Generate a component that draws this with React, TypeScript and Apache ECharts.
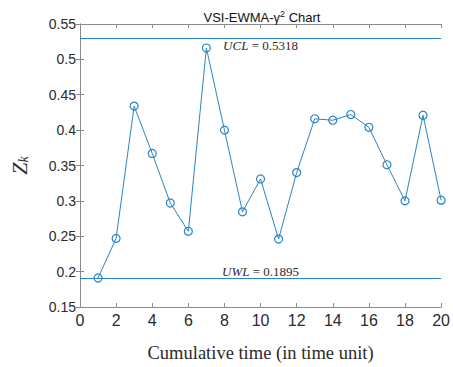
import React, { useEffect, useRef } from "react";
import * as echarts from "echarts";

// Cumulative sampling times and the EWMA statistic Z_k at each one
const times = [1, 2, 3, 4, 5, 6, 7, 8, 9, 10, 11, 12, 13, 14, 15, 16, 17, 18, 19, 20];
const zk = [
  0.191, 0.247, 0.434, 0.367, 0.297, 0.257, 0.516, 0.4, 0.2845, 0.331,
  0.246, 0.34, 0.416, 0.414, 0.422, 0.404, 0.351, 0.3, 0.421, 0.301,
];
// Control limits
const UCL = 0.5318;
const UWL = 0.1895;

const BLUE = "#2a84c6";
const AXIS = "#8a8a8a";
const TEXT = "#2b2b2b";

export default function App() {
  const ref = useRef<HTMLDivElement>(null);

  useEffect(() => {
    if (!ref.current) return;
    const chart = echarts.init(ref.current, null, { renderer: "svg" });

    const limitLabel = (name: string, v: number, pos: string) => ({
      show: true,
      position: pos,
      distance: 1,
      formatter: `{i|${name}}{r| = ${v}}`,
      rich: {
        i: { fontFamily: "Liberation Serif", fontStyle: "italic", fontSize: 13, color: TEXT },
        r: { fontFamily: "Liberation Serif", fontSize: 13, color: TEXT },
      },
    });

    const xCommon = {
      type: "value" as const,
      min: 0,
      max: 20,
      interval: 2,
      axisLine: { show: true, lineStyle: { color: AXIS, width: 1 } },
      axisTick: { show: true, inside: true, length: 4, lineStyle: { color: AXIS } },
      splitLine: { show: false },
    };
    const yCommon = {
      type: "value" as const,
      min: 0.15,
      max: 0.55,
      interval: 0.05,
      axisLine: { show: true, lineStyle: { color: AXIS, width: 1 } },
      axisTick: { show: true, inside: true, length: 4, lineStyle: { color: AXIS } },
      splitLine: { show: false },
    };

    chart.setOption({
      animation: false,
      backgroundColor: "#ffffff",
      title: {
        text: "VSI-EWMA-{g|γ}{s|2} Chart",
        left: 257,
        textAlign: "center",
        top: 4,
        textStyle: {
          fontFamily: "Liberation Sans",
          fontSize: 13,
          fontWeight: "normal",
          color: "#111",
          rich: {
            g: { fontFamily: "Liberation Sans", fontSize: 13, color: "#111" },
            s: {
              fontFamily: "Liberation Sans",
              fontSize: 9,
              color: "#111",
              verticalAlign: "bottom",
              padding: [0, 0, 7, 0],
            },
          },
        },
      },
      grid: { left: 72, right: 10, top: 24, bottom: 50 },
      xAxis: [
        {
          ...xCommon,
          position: "bottom",
          name: "Cumulative time (in time unit)",
          nameLocation: "middle",
          nameGap: 36,
          nameTextStyle: { fontFamily: "Liberation Serif", fontSize: 18.5, color: TEXT },
          axisLabel: { fontFamily: "Liberation Sans", fontSize: 16, color: TEXT, margin: 5 },
        },
        { ...xCommon, position: "top", axisLabel: { show: false } },
      ],
      yAxis: [
        {
          ...yCommon,
          position: "left",
          name: "{z|Z}{k|k}",
          nameLocation: "middle",
          nameGap: 50,
          nameTextStyle: {
            rich: {
              z: { fontFamily: "Liberation Serif", fontStyle: "italic", fontSize: 22, color: TEXT },
              k: {
                fontFamily: "Liberation Serif",
                fontStyle: "italic",
                fontSize: 14,
                color: TEXT,
                verticalAlign: "top",
                padding: [8, 0, 0, 0],
              },
            },
          },
          axisLabel: { fontFamily: "Liberation Sans", fontSize: 14, color: TEXT, margin: 4 },
        },
        { ...yCommon, position: "right", axisLabel: { show: false } },
      ],
      series: [
        {
          type: "line",
          data: times.map((t, i) => [t, zk[i]]),
          symbol: "circle",
          symbolSize: 8,
          lineStyle: { color: BLUE, width: 1 },
          itemStyle: { color: "transparent", borderColor: BLUE, borderWidth: 1.2 },
          markLine: {
            silent: true,
            symbol: "none",
            lineStyle: { color: BLUE, width: 1, type: "solid" },
            data: [
              { yAxis: UCL, label: limitLabel("UCL", UCL, "insideMiddleBottom") },
              { yAxis: UWL, label: limitLabel("UWL", UWL, "insideMiddleTop") },
            ],
          },
        },
      ],
    });

    return () => chart.dispose();
  }, []);

  return (
    <div
      ref={ref}
      style={{ position: "absolute", left: 0, top: 0, width: 453, height: 367 }}
    />
  );
}
